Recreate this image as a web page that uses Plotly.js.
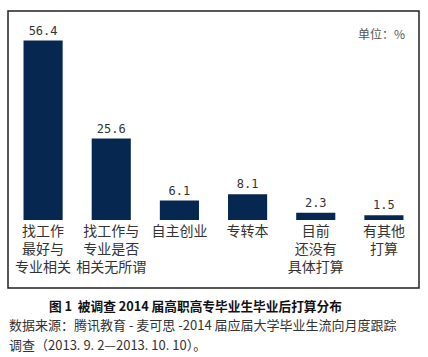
<!DOCTYPE html>
<html>
<head>
<meta charset="utf-8">
<script src="https://cdn.plot.ly/plotly-3.0.1.min.js"></script>
<style>html,body{margin:0;padding:0;background:#fff;}#chart{width:428px;height:357px;}</style>
</head>
<body>
<div id="chart"></div>
<script>
const categories = ['找工作最好与专业相关', '找工作与专业是否相关无所谓', '自主创业', '专转本', '目前还没有具体打算', '有其他打算'];
const tickLabels = ['找工作<br>最好与<br>专业相关', '找工作与<br>专业是否<br>相关无所谓', '自主创业', '专转本', '目前<br>还没有<br>具体打算', '有其他<br>打算'];
const values = [56.4, 25.6, 6.1, 8.1, 2.3, 1.5];
const unitText = '单位：%';
const captionText = '图 1  被调查 2014 届高职高专毕业生毕业后打算分布';
const sourceLine1 = '数据来源：腾讯教育 - 麦可思 -2014 届应届大学毕业生流向月度跟踪';
const sourceLine2 = '调查（2013. 9. 2—2013. 10. 10）。';

const cjk = '"Noto Sans CJK SC", "Noto Sans", sans-serif';

const trace = {
  type: 'bar',
  x: categories,
  y: values,
  marker: {color: '#062850'},
  text: values.map(v => v.toFixed(1)),
  textposition: 'outside',
  textfont: {family: '"DejaVu Sans Mono", monospace', size: 12, color: '#333'},
  cliponaxis: false,
  hoverinfo: 'none'
};

const layout = {
  width: 428, height: 357,
  margin: {l: 9, r: 10, t: 11, b: 137},
  paper_bgcolor: '#fff', plot_bgcolor: '#fff',
  showlegend: false,
  bargap: 0.426,
  xaxis: {
    type: 'category',
    range: [-0.5, 5.5],
    tickvals: categories,
    ticktext: tickLabels,
    tickfont: {family: cjk, size: 14, color: '#333'},
    showline: false, showgrid: false, zeroline: false, ticks: '',
    ticklabelstandoff: 1,
    fixedrange: true
  },
  yaxis: {
    range: [0, 65.7],
    visible: false,
    fixedrange: true
  },
  shapes: [{
    type: 'rect', xref: 'paper', yref: 'paper',
    x0: -0.00244, x1: 1.00244, y0: -0.3254, y1: 1,
    line: {color: '#222', width: 1.5}
  }],
  annotations: [
    {text: unitText, xref: 'paper', yref: 'paper', x: 0.973, y: 0.89, xanchor: 'right', yanchor: 'middle', showarrow: false, font: {family: cjk, size: 12, color: '#555'}},
    {text: '<b>' + captionText + '</b>', xref: 'paper', yref: 'paper', x: 0.457, y: -0.4067, xanchor: 'center', yanchor: 'middle', showarrow: false, font: {family: cjk, size: 12.7, color: '#111'}},
    {text: sourceLine1, xref: 'paper', yref: 'paper', x: -0.0049, y: -0.502, xanchor: 'left', yanchor: 'middle', showarrow: false, font: {family: cjk, size: 13, color: '#333'}},
    {text: sourceLine2, xref: 'paper', yref: 'paper', x: -0.0049, y: -0.598, xanchor: 'left', yanchor: 'middle', showarrow: false, font: {family: cjk, size: 13, color: '#333'}}
  ]
};

Plotly.newPlot('chart', [trace], layout, {staticPlot: true, displayModeBar: false});
</script>
</body>
</html>
